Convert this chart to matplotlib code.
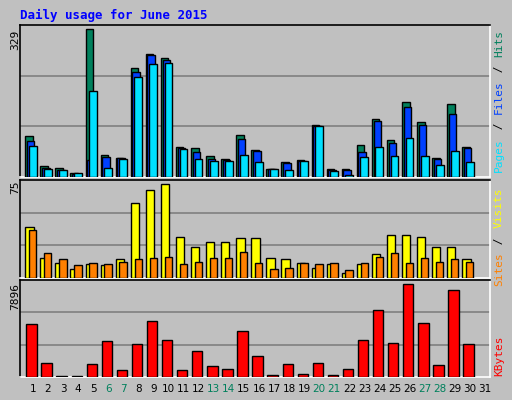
import matplotlib
matplotlib.use("Agg")
import matplotlib.pyplot as plt
import numpy as np

days = list(range(1, 32))
hits  = [91,24,20,10,329,49,42,244,275,266,67,64,46,40,93,60,17,33,37,116,17,17,71,129,82,168,123,42,163,67,0]
files = [80,19,15,6,37,44,42,235,271,262,64,55,40,37,85,58,17,31,35,114,15,15,55,125,76,156,116,40,141,64,0]
pages = [69,17,15,8,192,19,40,224,251,255,62,40,35,35,49,33,17,15,35,114,13,4,44,67,46,87,46,26,58,33,0]
visits = [41,16,12,7,11,10,15,60,70,75,33,25,29,29,32,32,16,15,12,8,11,4,11,19,34,34,33,25,25,15,0]
sites  = [38,20,15,10,12,11,13,15,16,17,11,13,16,16,21,12,7,8,12,11,12,6,12,17,20,12,16,13,15,13,0]
kbytes = [4524,1152,115,115,1066,3054,634,2795,4784,3141,634,2190,893,720,3919,1758,200,1066,288,1152,200,720,3141,5735,2882,7896,4611,980,7378,2795,0]
weekend = [6,7,13,14,20,21,27,28]

BG = "#C0C0C0"
fig = plt.figure(figsize=(5.12, 4.0), dpi=100, facecolor=BG)
W, H = 512, 400
def ax_at(x0, y0, x1, y1):
    return fig.add_axes([x0/W, 1-y1/H, (x1-x0)/W, (y1-y0)/H])

d = np.array(days)
def mkbars(ax, vals, off, w, color):
    v = np.array(vals)
    m = v > 0
    ax.bar(d[m] + off, v[m], width=w, align="edge", color=color, edgecolor="black", linewidth=1, zorder=3)

def style(ax, ytop):
    ax.set_facecolor(BG)
    ax.set_xlim(0.14, 31.33)
    ax.set_ylim(0, ytop)
    for g in (ytop/3, 2*ytop/3):
        ax.axhline(g, color="#808080", lw=1.2, zorder=1)
    ax.set_xticks([]); ax.set_yticks([])
    ax.spines["top"].set_color("black"); ax.spines["left"].set_color("black")
    ax.spines["right"].set_color("white"); ax.spines["bottom"].set_color("white")
    for s in ax.spines.values(): s.set_linewidth(1.2)

mono = "DejaVu Sans Mono"
a1 = ax_at(20, 25, 490, 177)
style(a1, 339)
mkbars(a1, hits, -0.51, 0.5, "#00805C")
mkbars(a1, files, -0.40, 0.5, "#0040FF")
mkbars(a1, pages, -0.27, 0.52, "#00E0FF")

a2 = ax_at(20, 180, 490, 278)
style(a2, 78.3)
mkbars(a2, visits, -0.51, 0.55, "#FFFF00")
mkbars(a2, sites, -0.26, 0.49, "#FF8000")

a3 = ax_at(20, 280, 490, 377)
style(a3, 8242)
mkbars(a3, kbytes, -0.44, 0.69, "#FF0000")

fig.text(20/W, 1-15/H, "Daily usage for June 2015", color="#0000FF", fontsize=9, fontweight="bold", family=mono, va="center")
for y, t in [(40, str(max(hits))), (187, str(max(visits))), (297, str(max(kbytes)))]:
    fig.text(15/W, 1-y/H, t, rotation=90, fontsize=8, family=mono, ha="center", va="center")

def rlabel(yc, parts):
    # parts listed from bottom to top
    total = sum(len(p) for p, _ in parts)
    ch = 7.2
    y = yc + total*ch/2
    for p, c in parts:
        n = len(p)
        fig.text(499/W, 1-(y - n*ch/2)/H, p, rotation=90, color=c, fontsize=8, family=mono, ha="center", va="center")
        y -= n*ch
rlabel(101, [("Pages", "#00E0FF"), (" / ", "black"), ("Files", "#0040FF"), (" / ", "black"), ("Hits", "#00805C")])
rlabel(237, [("Sites", "#FF8000"), (" / ", "black"), ("Visits", "#FFFF00")])
rlabel(356, [("KBytes", "#FF0000")])

for i in days:
    x = (20 + (i - 0.14) / (31.33 - 0.14) * 470) / W
    fig.text(x, 1-389/H, str(i), color="#00805C" if i in weekend else "black", fontsize=7.5, ha="center", va="center")

fig.savefig("out.png", dpi=100, facecolor=BG)
